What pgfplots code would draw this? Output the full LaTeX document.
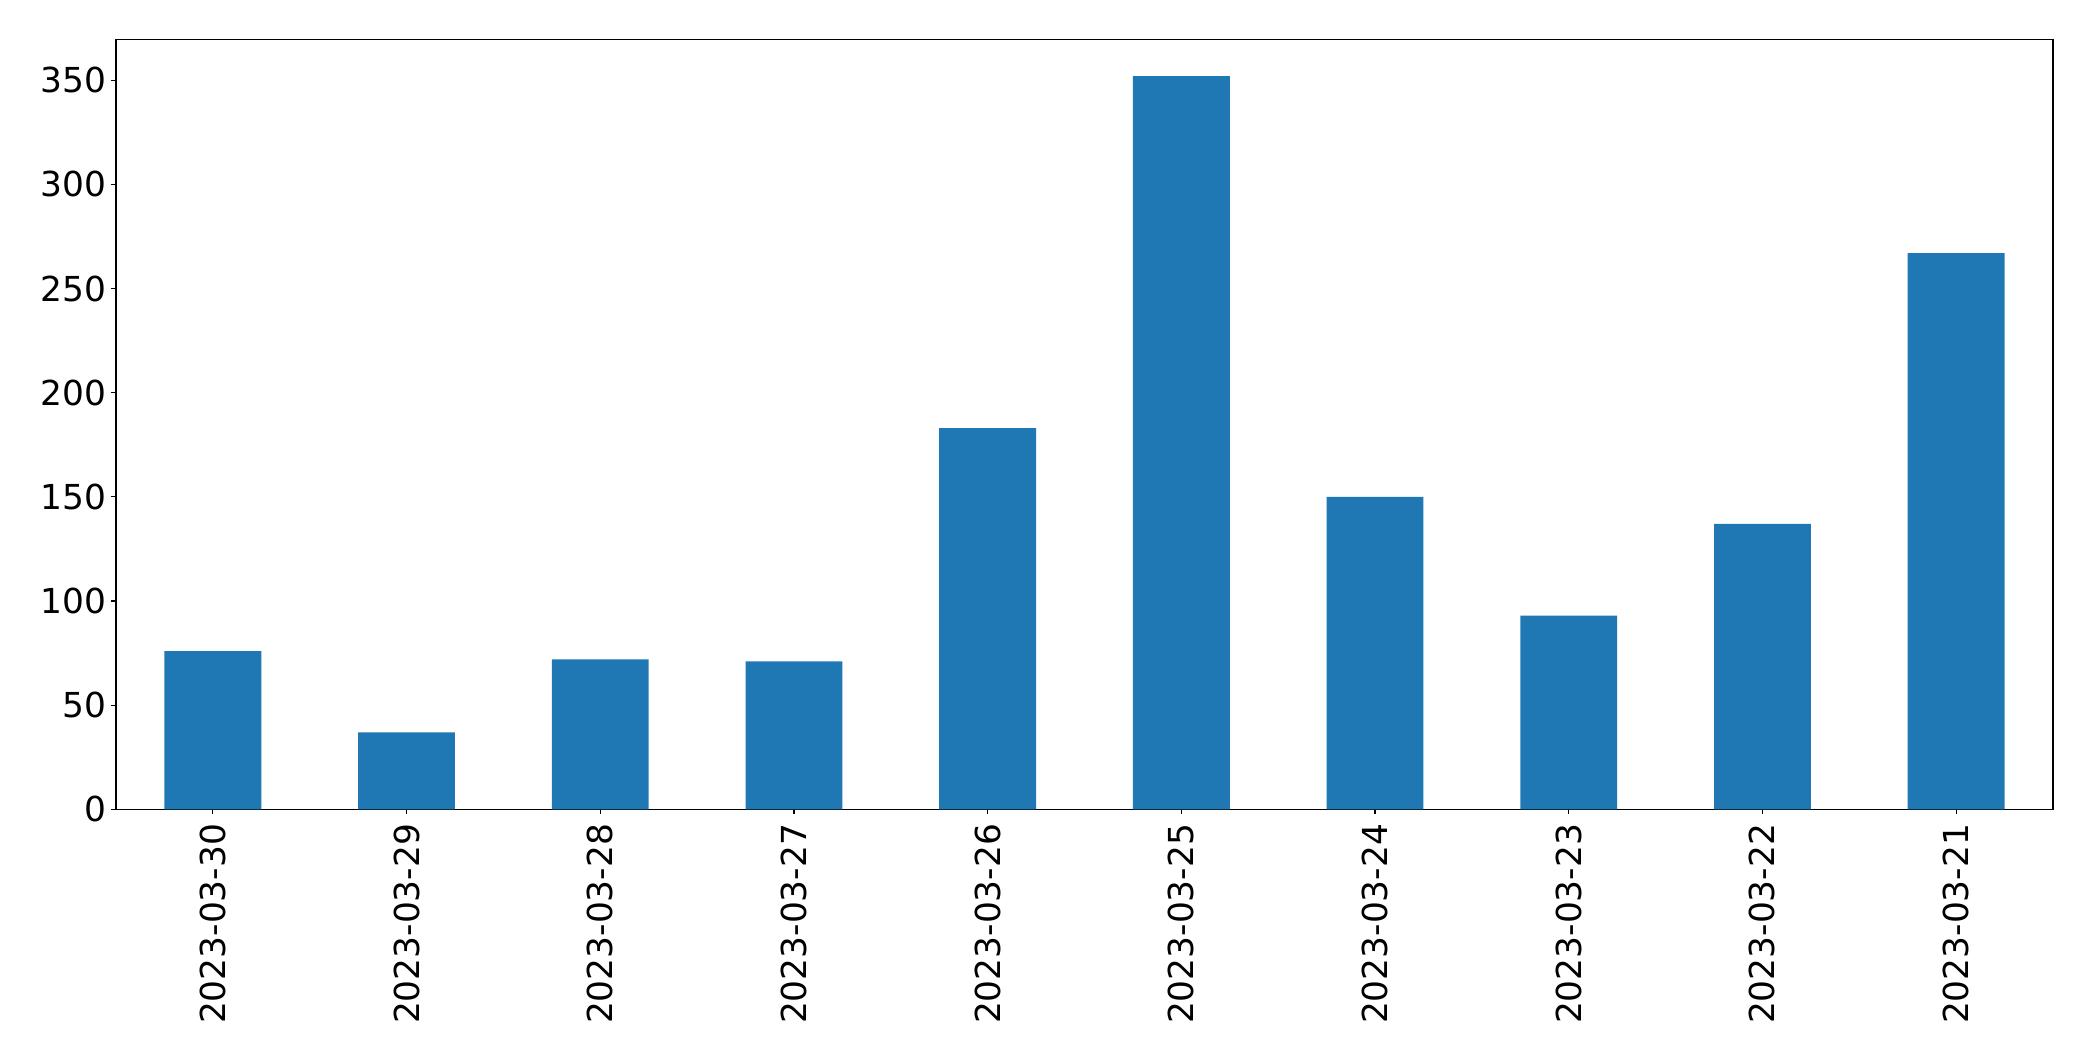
\documentclass[border=0pt]{standalone}
\usepackage{fontspec}
\setmainfont{DejaVu Sans}
\usepackage{pgfplots}
\pgfplotsset{compat=1.18}

\definecolor{barblue}{HTML}{1F77B4}

\begin{document}
\begin{tikzpicture}
    \begin{axis}[
        name=main,
        scale only axis,
        width=968.5pt,
        height=385pt,
        xmin=-0.5, xmax=9.5,
        ymin=0, ymax=369.6,
        xtick={0,1,2,3,4,5,6,7,8,9},
        xticklabels={2023-03-30,2023-03-29,2023-03-28,2023-03-27,2023-03-26,2023-03-25,2023-03-24,2023-03-23,2023-03-22,2023-03-21},
        ytick={0,50,100,150,200,250,300,350},
        tick align=outside,
        xtick pos=bottom,
        ytick pos=left,
        major tick length=2.5pt,
        tick style={black, line width=0.6pt},
        axis line style={line width=0.6pt},
        /pgf/number format/assume math mode=true,
        tick label style={font=\fontsize{17.2}{20.6}\selectfont},
        xticklabel style={rotate=90, anchor=east, inner sep=0pt, xshift=-4.6pt},
        yticklabel style={anchor=east, inner sep=0pt, xshift=-2.3pt},
        bar width=0.5,
    ]
    % counts per day
    \addplot[ybar, fill=barblue, draw=none] coordinates {
        (0, 76)
        (1, 37)
        (2, 72)
        (3, 71)
        (4, 183)
        (5, 352)
        (6, 150)
        (7, 93)
        (8, 137)
        (9, 267)
    };
    \end{axis}
    % page margins as in the reference
    \pgfresetboundingbox
    \path ([xshift=-58pt, yshift=-125.9pt]main.south west) rectangle ([xshift=20pt, yshift=19.7pt]main.north east);
\end{tikzpicture}
\end{document}
